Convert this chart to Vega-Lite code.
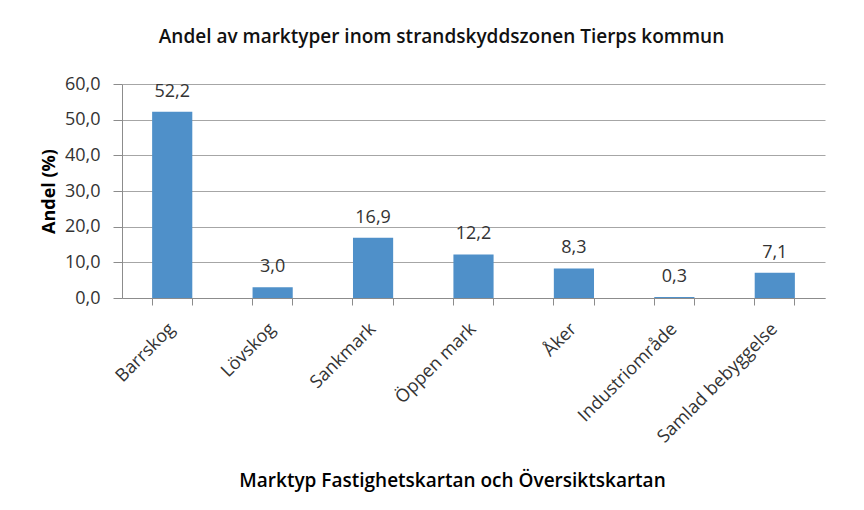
{
  "$schema": "https://vega.github.io/schema/vega-lite/v6.json",
  "width": 703,
  "height": 214,
  "autosize": "none",
  "padding": {"left": 122, "top": 84, "right": 39, "bottom": 212},
  "background": "white",
  "config": {
    "locale": {"number": {"decimal": ",", "thousands": " ", "grouping": [3], "currency": ["", " kr"]}},
    "font": "Open Sans",
    "view": {"stroke": null}
  },
  "title": {
    "text": "Andel av marktyper inom strandskyddszonen  Tierps kommun",
    "fontSize": 19,
    "fontWeight": 600,
    "color": "#111111",
    "anchor": "middle",
    "offset": 28,
    "dx": -32
  },
  "data": {
    "values": [
      {"marktyp": "Barrskog", "andel": 52.2},
      {"marktyp": "Lövskog", "andel": 3.0},
      {"marktyp": "Sankmark", "andel": 16.9},
      {"marktyp": "Öppen mark", "andel": 12.2},
      {"marktyp": "Åker", "andel": 8.3},
      {"marktyp": "Industriområde", "andel": 0.3},
      {"marktyp": "Samlad bebyggelse", "andel": 7.1}
    ]
  },
  "encoding": {
    "y": {
      "field": "andel", "type": "quantitative",
      "scale": {"domain": [0, 60]},
      "axis": {
        "title": "Andel (%)", "titleFontSize": 18, "titleFontWeight": "bold", "titleColor": "#000000",
        "titlePadding": 6,
        "values": [0, 10, 20, 30, 40, 50, 60], "format": ".1f",
        "labelOverlap": false,
        "labelFontSize": 18, "labelColor": "#333333", "labelPadding": 13,
        "tickSize": 9, "tickColor": "#8c8c8c", "domainColor": "#8c8c8c",
        "gridColor": "#a6a6a6"
      }
    }
  },
  "resolve": {"axis": {"x": "independent"}},
  "layer": [
    {
      "mark": {"type": "bar", "color": "#4f90c9"},
      "encoding": {
        "x": {
          "field": "marktyp", "type": "nominal", "sort": null,
          "scale": {"paddingInner": 0.6, "paddingOuter": 0.3},
          "axis": {
            "orient": "bottom",
            "title": "Marktyp Fastighetskartan  och Översiktskartan",
            "titleFontSize": 19, "titleFontWeight": 600, "titleColor": "#000000",
            "titleX": 330, "titleY": 188, "titleBaseline": "alphabetic",
            "labelAngle": -45, "labelAlign": "right", "labelBaseline": "middle",
            "labelFontSize": 18, "labelColor": "#333333", "labelPadding": 28,
            "ticks": false, "domain": false
          }
        }
      }
    },
    {
      "mark": {"type": "text", "baseline": "alphabetic", "dy": -15, "fontSize": 18, "color": "#333333"},
      "encoding": {
        "x": {
          "field": "marktyp", "type": "nominal", "sort": null,
          "axis": {"orient": "bottom", "title": null, "labels": false, "bandPosition": 0, "tickSize": 7, "tickColor": "#8c8c8c", "domainColor": "#8c8c8c", "grid": false}
        },
        "text": {"field": "andel", "type": "quantitative", "format": ".1f"}
      }
    },
    {
      "mark": {"type": "text", "opacity": 0},
      "encoding": {
        "x": {
          "field": "marktyp", "type": "nominal", "sort": null,
          "axis": {"orient": "bottom", "title": null, "labels": false, "bandPosition": 1, "tickSize": 7, "tickColor": "#8c8c8c", "domain": false, "grid": false}
        },
        "text": {"value": ""}
      }
    }
  ]
}
